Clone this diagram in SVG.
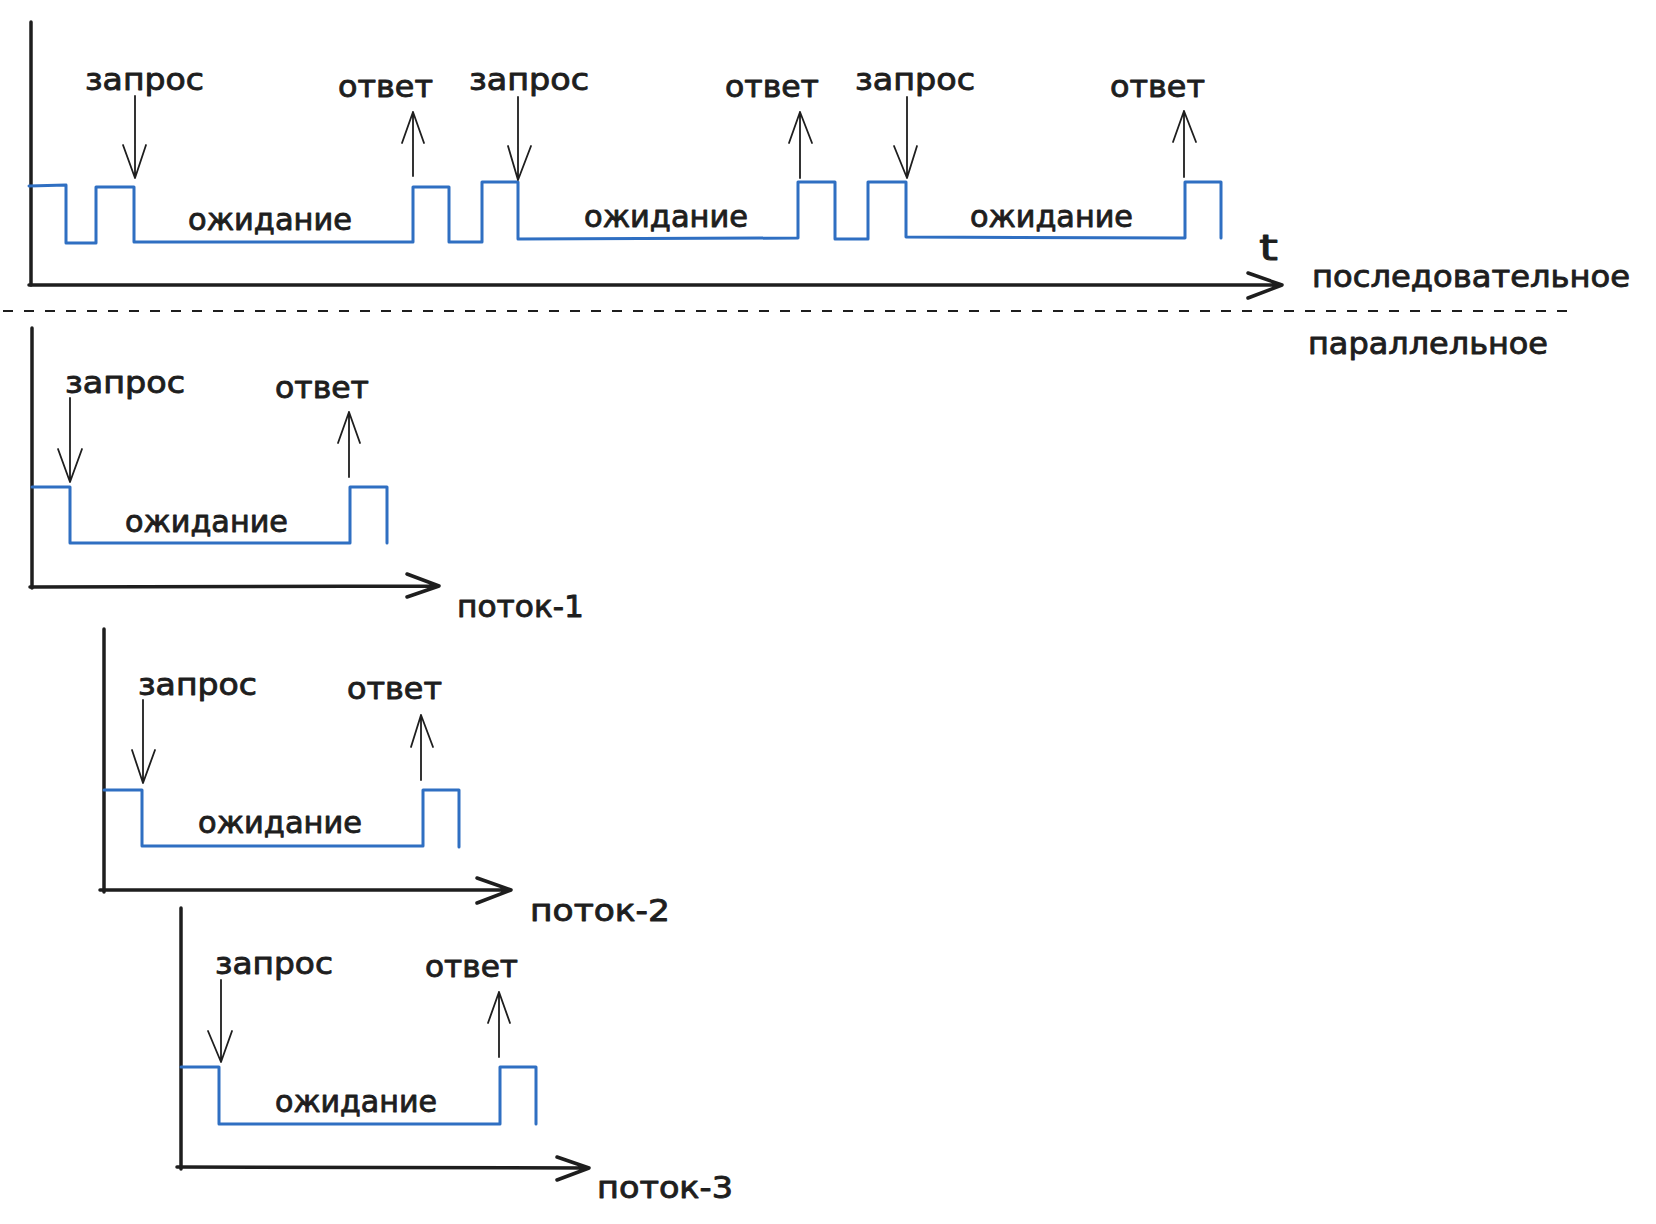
<svg xmlns="http://www.w3.org/2000/svg" width="1656" height="1224" viewBox="0 0 1656 1224">
<style>
  .axis { fill: none; stroke: #1e1e1e; stroke-width: 3.5; stroke-linecap: round; stroke-linejoin: round; }
  .sig { fill: none; stroke: #2f6fc2; stroke-width: 3; stroke-linecap: round; stroke-linejoin: round; }
  .arr { fill: none; stroke: #1e1e1e; stroke-width: 1.8; stroke-linecap: round; stroke-linejoin: round; }
  .dash { fill: none; stroke: #1e1e1e; stroke-width: 2; stroke-dasharray: 10 11; }
  .lbl { font-family: "DejaVu Sans", "Noto Sans", sans-serif; font-size: 31px; fill: #1e1e1e; stroke: #1e1e1e; stroke-width: 0.9; stroke-linejoin: round; }
  .big { font-size: 36px; }
</style>
<rect width="1656" height="1224" fill="#ffffff"/>

<!-- Sequential section -->
<g id="seq-axes">
  <path class="axis" d="M31,22 L31,285"/>
  <path class="axis" d="M29,285 L1282,285 M1248,273 L1282,285 L1248,298"/>
  <text class="lbl big" x="1259" y="260" textLength="19" lengthAdjust="spacingAndGlyphs">t</text>
</g>
<g id="seq-signal">
  <path class="sig" d="M29,186 L66,185 L66,243 L96,243 L96,187 L134,187 L134,242 L413,242 L413,187 L449,187 L449,242 L482,242 L482,182 L518,182 L518,239 L798,238 L798,182 L835,182 L835,239 L868,239 L868,182 L906,182 L906,237 L1185,238 L1185,182 L1221,182 L1221,238"/>
</g>
<g id="seq-labels">
  <text class="lbl" x="85" y="90" textLength="119" lengthAdjust="spacingAndGlyphs">запрос</text>
  <text class="lbl" x="469" y="90" textLength="120" lengthAdjust="spacingAndGlyphs">запрос</text>
  <text class="lbl" x="855" y="90" textLength="120" lengthAdjust="spacingAndGlyphs">запрос</text>
  <text class="lbl" x="338" y="97" textLength="95" lengthAdjust="spacingAndGlyphs">ответ</text>
  <text class="lbl" x="725" y="97" textLength="94" lengthAdjust="spacingAndGlyphs">ответ</text>
  <text class="lbl" x="1110" y="97" textLength="95" lengthAdjust="spacingAndGlyphs">ответ</text>
  <text class="lbl" x="188" y="230" textLength="164" lengthAdjust="spacingAndGlyphs">ожидание</text>
  <text class="lbl" x="584" y="227" textLength="164" lengthAdjust="spacingAndGlyphs">ожидание</text>
  <text class="lbl" x="970" y="227" textLength="163" lengthAdjust="spacingAndGlyphs">ожидание</text>
</g>
<g id="label-sequential">
  <text class="lbl" x="1312" y="287" textLength="318" lengthAdjust="spacingAndGlyphs">последовательное</text>
</g>

<g id="divider">
  <path class="dash" d="M3,311 L1567,311"/>
</g>
<g id="label-parallel">
  <text class="lbl" x="1308" y="354" textLength="240" lengthAdjust="spacingAndGlyphs">параллельное</text>
</g>

<!-- Thread 1 -->
<g id="thread-1">
  <path class="axis" d="M32,328 L32,588"/>
  <path class="axis" d="M30,587 L439,586 M407,574 L439,586 L407,597"/>
  <path class="sig" d="M32,487 L70,487 L70,543 L350,543 L350,487 L387,487 L387,543"/>
  <text class="lbl" x="65" y="393" textLength="120" lengthAdjust="spacingAndGlyphs">запрос</text>
  <text class="lbl" x="275" y="398" textLength="94" lengthAdjust="spacingAndGlyphs">ответ</text>
  <text class="lbl" x="125" y="532" textLength="163" lengthAdjust="spacingAndGlyphs">ожидание</text>
  <text class="lbl" x="457" y="617" textLength="127" lengthAdjust="spacingAndGlyphs">поток-1</text>
</g>

<!-- Thread 2 -->
<g id="thread-2">
  <path class="axis" d="M104,629 L104,892"/>
  <path class="axis" d="M100,890 L511,890 M477,878 L511,890 L477,903"/>
  <path class="sig" d="M104,790 L142,790 L142,846 L423,846 L423,790 L459,790 L459,847"/>
  <text class="lbl" x="138" y="695" textLength="119" lengthAdjust="spacingAndGlyphs">запрос</text>
  <text class="lbl" x="347" y="699" textLength="95" lengthAdjust="spacingAndGlyphs">ответ</text>
  <text class="lbl" x="198" y="833" textLength="164" lengthAdjust="spacingAndGlyphs">ожидание</text>
  <text class="lbl" x="530" y="921" textLength="140" lengthAdjust="spacingAndGlyphs">поток-2</text>
</g>

<!-- Thread 3 -->
<g id="thread-3">
  <path class="axis" d="M181,908 L181,1169"/>
  <path class="axis" d="M177,1167 L589,1168 M557,1157 L589,1168 L557,1180"/>
  <path class="sig" d="M181,1067 L219,1067 L219,1124 L500,1124 L500,1067 L536,1067 L536,1124"/>
  <text class="lbl" x="215" y="974" textLength="118" lengthAdjust="spacingAndGlyphs">запрос</text>
  <text class="lbl" x="425" y="977" textLength="93" lengthAdjust="spacingAndGlyphs">ответ</text>
  <text class="lbl" x="275" y="1112" textLength="162" lengthAdjust="spacingAndGlyphs">ожидание</text>
  <text class="lbl" x="597" y="1198" textLength="136" lengthAdjust="spacingAndGlyphs">поток-3</text>
</g>

<!-- Connectors: request / response arrows -->
<g id="connectors">
  <path class="arr" d="M135,96 L135,178 M123,145 L135,178 L146,145"/>
  <path class="arr" d="M413,176 L413,112 M402,143 L413,112 L424,143"/>
  <path class="arr" d="M518,97 L518,180 M508,146 L518,180 L531,146"/>
  <path class="arr" d="M800,178 L800,112 M789,143 L800,112 L812,143"/>
  <path class="arr" d="M907,97 L907,178 M894,146 L907,178 L917,146"/>
  <path class="arr" d="M1184,177 L1184,111 M1173,142 L1184,111 L1196,142"/>

  <path class="arr" d="M70,398 L70,482 M58,449 L70,482 L82,449"/>
  <path class="arr" d="M349,477 L349,412 M338,443 L349,412 L360,443"/>

  <path class="arr" d="M143,700 L143,783 M132,750 L143,783 L155,750"/>
  <path class="arr" d="M421,780 L421,715 M411,747 L421,715 L433,747"/>

  <path class="arr" d="M221,980 L221,1062 M208,1031 L221,1062 L232,1031"/>
  <path class="arr" d="M499,1057 L499,992 M488,1023 L499,992 L510,1023"/>
</g>
</svg>
